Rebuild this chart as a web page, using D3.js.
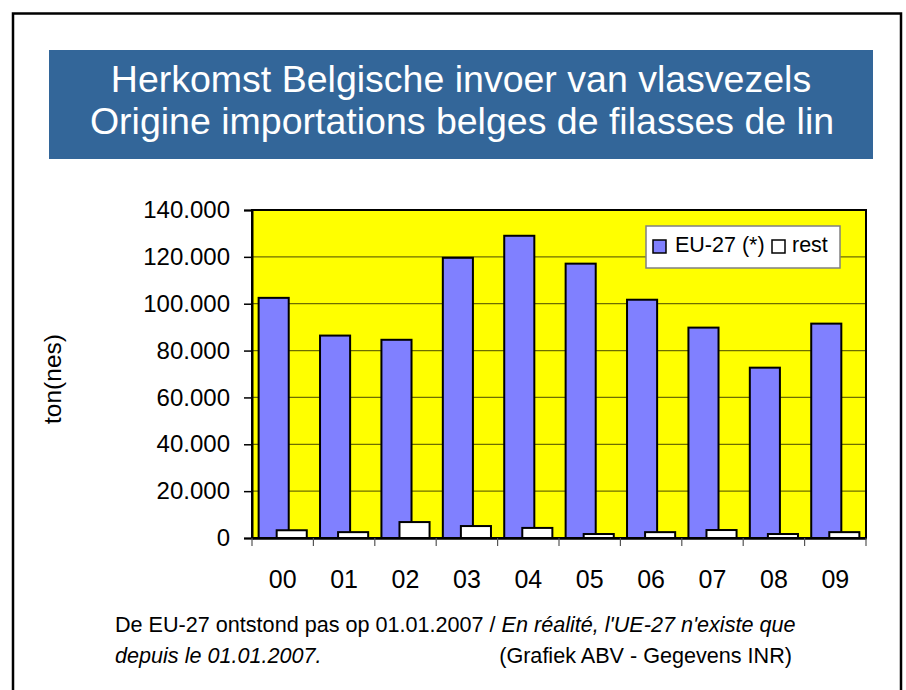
<!DOCTYPE html>
<html>
<head>
<meta charset="utf-8">
<script src="https://cdn.jsdelivr.net/npm/d3@7"></script>
<style>
  body { margin: 0; background: #fff; }
  text { font-family: "Liberation Sans", Arial, sans-serif; }
</style>
</head>
<body>
<div id="chart"></div>
<script>
// data
var years = ["00","01","02","03","04","05","06","07","08","09"];
var eu27 = [102500, 86400, 84600, 119600, 129000, 117100, 101700, 89800, 72700, 91500];
var rest = [3300, 2500, 6800, 5100, 4300, 1700, 2500, 3400, 1700, 2500];
var yTicks = [0, 20000, 40000, 60000, 80000, 100000, 120000, 140000];
var seriesNames = ["EU-27 (*)", "rest"];
var seriesColors = ["#8080ff", "#ffffff"];

var width = 906, height = 690;
var plot = {left: 252, right: 866, top: 210, bottom: 538};

var svg = d3.select("#chart").append("svg")
  .attr("width", width)
  .attr("height", height);

// outer frame
svg.append("rect")
  .attr("x", 13).attr("y", 13.5)
  .attr("width", 888).attr("height", 700)
  .attr("fill", "#fff")
  .attr("stroke", "#000")
  .attr("stroke-width", 2.5);

// title box
svg.append("rect")
  .attr("x", 49).attr("y", 50)
  .attr("width", 824).attr("height", 109)
  .attr("fill", "#336699");

svg.append("text")
  .attr("x", 461).attr("y", 92)
  .attr("text-anchor", "middle")
  .attr("font-size", 37.5)
  .attr("fill", "#fff")
  .text("Herkomst Belgische invoer van vlasvezels");

svg.append("text")
  .attr("x", 462).attr("y", 134)
  .attr("text-anchor", "middle")
  .attr("font-size", 37.5)
  .attr("fill", "#fff")
  .text("Origine importations belges de filasses de lin");

var x = d3.scaleBand()
  .domain(years)
  .range([plot.left, plot.right])
  .padding(0);

var y = d3.scaleLinear()
  .domain([0, 140000])
  .range([plot.bottom, plot.top]);

var bw = x.bandwidth();
var barW = bw * 0.49;
var shift = bw * 0.147;

// plot background
svg.append("rect")
  .attr("x", plot.left).attr("y", plot.top)
  .attr("width", plot.right - plot.left)
  .attr("height", plot.bottom - plot.top)
  .attr("fill", "#ffff00");

// gridlines
svg.append("g")
  .selectAll("line")
  .data(yTicks.filter(function(d){ return d > 0 && d < 140000; }))
  .enter().append("line")
  .attr("x1", plot.left).attr("x2", plot.right)
  .attr("y1", function(d){ return y(d); })
  .attr("y2", function(d){ return y(d); })
  .attr("stroke", "#6e6e00")
  .attr("stroke-width", 1.2);

// bars EU-27
svg.append("g")
  .selectAll("rect")
  .data(eu27)
  .enter().append("rect")
  .attr("x", function(d,i){ return x(years[i]) + bw/2 - shift - barW/2; })
  .attr("y", function(d){ return y(d); })
  .attr("width", barW)
  .attr("height", function(d){ return y(0) - y(d); })
  .attr("fill", seriesColors[0])
  .attr("stroke", "#000")
  .attr("stroke-width", 2);

// bars rest
svg.append("g")
  .selectAll("rect")
  .data(rest)
  .enter().append("rect")
  .attr("x", function(d,i){ return x(years[i]) + bw/2 + shift - barW/2; })
  .attr("y", function(d){ return y(d); })
  .attr("width", barW)
  .attr("height", function(d){ return y(0) - y(d); })
  .attr("fill", seriesColors[1])
  .attr("stroke", "#000")
  .attr("stroke-width", 2);

// plot border
svg.append("rect")
  .attr("x", plot.left).attr("y", plot.top)
  .attr("width", plot.right - plot.left)
  .attr("height", plot.bottom - plot.top)
  .attr("fill", "none")
  .attr("stroke", "#000")
  .attr("stroke-width", 2);

// y axis
var yAxis = svg.append("g")
  .attr("transform", "translate(" + plot.left + ",0)")
  .call(d3.axisLeft(y)
    .tickValues(yTicks)
    .tickSize(8)
    .tickPadding(14)
    .tickFormat(function(d){ return d === 0 ? "0" : d3.format(",")(d).replace(/,/g, "."); }));
yAxis.select(".domain").attr("stroke", "#000").attr("stroke-width", 2);
yAxis.selectAll(".tick line").attr("stroke", "#000").attr("stroke-width", 1.5);
yAxis.selectAll(".tick text")
  .attr("font-size", 24)
  .attr("font-family", "'Liberation Sans', Arial, sans-serif")
  .attr("fill", "#000");

// x axis: ticks on category boundaries
var xAxis = svg.append("g")
  .attr("transform", "translate(0," + plot.bottom + ")")
  .call(d3.axisBottom(x).tickSize(0).tickPadding(32));
xAxis.select(".domain").attr("stroke", "#000").attr("stroke-width", 2.5);
xAxis.selectAll(".tick text")
  .attr("font-size", 25)
  .attr("font-family", "'Liberation Sans', Arial, sans-serif")
  .attr("fill", "#000");

var bounds = years.map(function(d){ return x(d); }).concat([plot.right]);
xAxis.selectAll(".bound")
  .data(bounds)
  .enter().append("line")
  .attr("class", "bound")
  .attr("x1", function(d){ return d; })
  .attr("x2", function(d){ return d; })
  .attr("y1", 0).attr("y2", 8)
  .attr("stroke", "#555")
  .attr("stroke-width", 1.2);

// y axis title
svg.append("text")
  .attr("transform", "translate(61,379) rotate(-90)")
  .attr("text-anchor", "middle")
  .attr("font-size", 24.5)
  .attr("fill", "#000")
  .text("ton(nes)");

// legend
var legend = svg.append("g").attr("class", "legend");
legend.append("rect")
  .attr("x", 646).attr("y", 226)
  .attr("width", 194).attr("height", 42)
  .attr("fill", "#fff")
  .attr("stroke", "#808080")
  .attr("stroke-width", 1.5);

var legX = [653, 772];
var legItems = legend.selectAll(".item")
  .data(seriesNames)
  .enter().append("g")
  .attr("class", "item")
  .attr("transform", function(d,i){ return "translate(" + legX[i] + ",0)"; });

legItems.append("rect")
  .attr("x", 0).attr("y", 240)
  .attr("width", 13).attr("height", 13)
  .attr("fill", function(d,i){ return seriesColors[i]; })
  .attr("stroke", "#000")
  .attr("stroke-width", 1.5);

legItems.append("text")
  .attr("x", function(d,i){ return i === 0 ? 22 : 20; })
  .attr("y", 252)
  .attr("font-size", 21.5)
  .attr("fill", "#000")
  .text(function(d){ return d; });

// footnote
var note1 = svg.append("text")
  .attr("x", 115).attr("y", 632)
  .attr("font-size", 21.6)
  .attr("fill", "#000");
note1.append("tspan").text("De EU-27 ontstond pas op 01.01.2007 / ");
note1.append("tspan").attr("font-style", "italic").text("En réalité, l'UE-27 n'existe que");

svg.append("text")
  .attr("x", 115).attr("y", 663)
  .attr("font-size", 21.6)
  .attr("font-style", "italic")
  .attr("fill", "#000")
  .text("depuis le 01.01.2007.");

svg.append("text")
  .attr("x", 792).attr("y", 663)
  .attr("text-anchor", "end")
  .attr("font-size", 21.6)
  .attr("fill", "#000")
  .text("(Grafiek ABV - Gegevens INR)");
</script>
</body>
</html>
